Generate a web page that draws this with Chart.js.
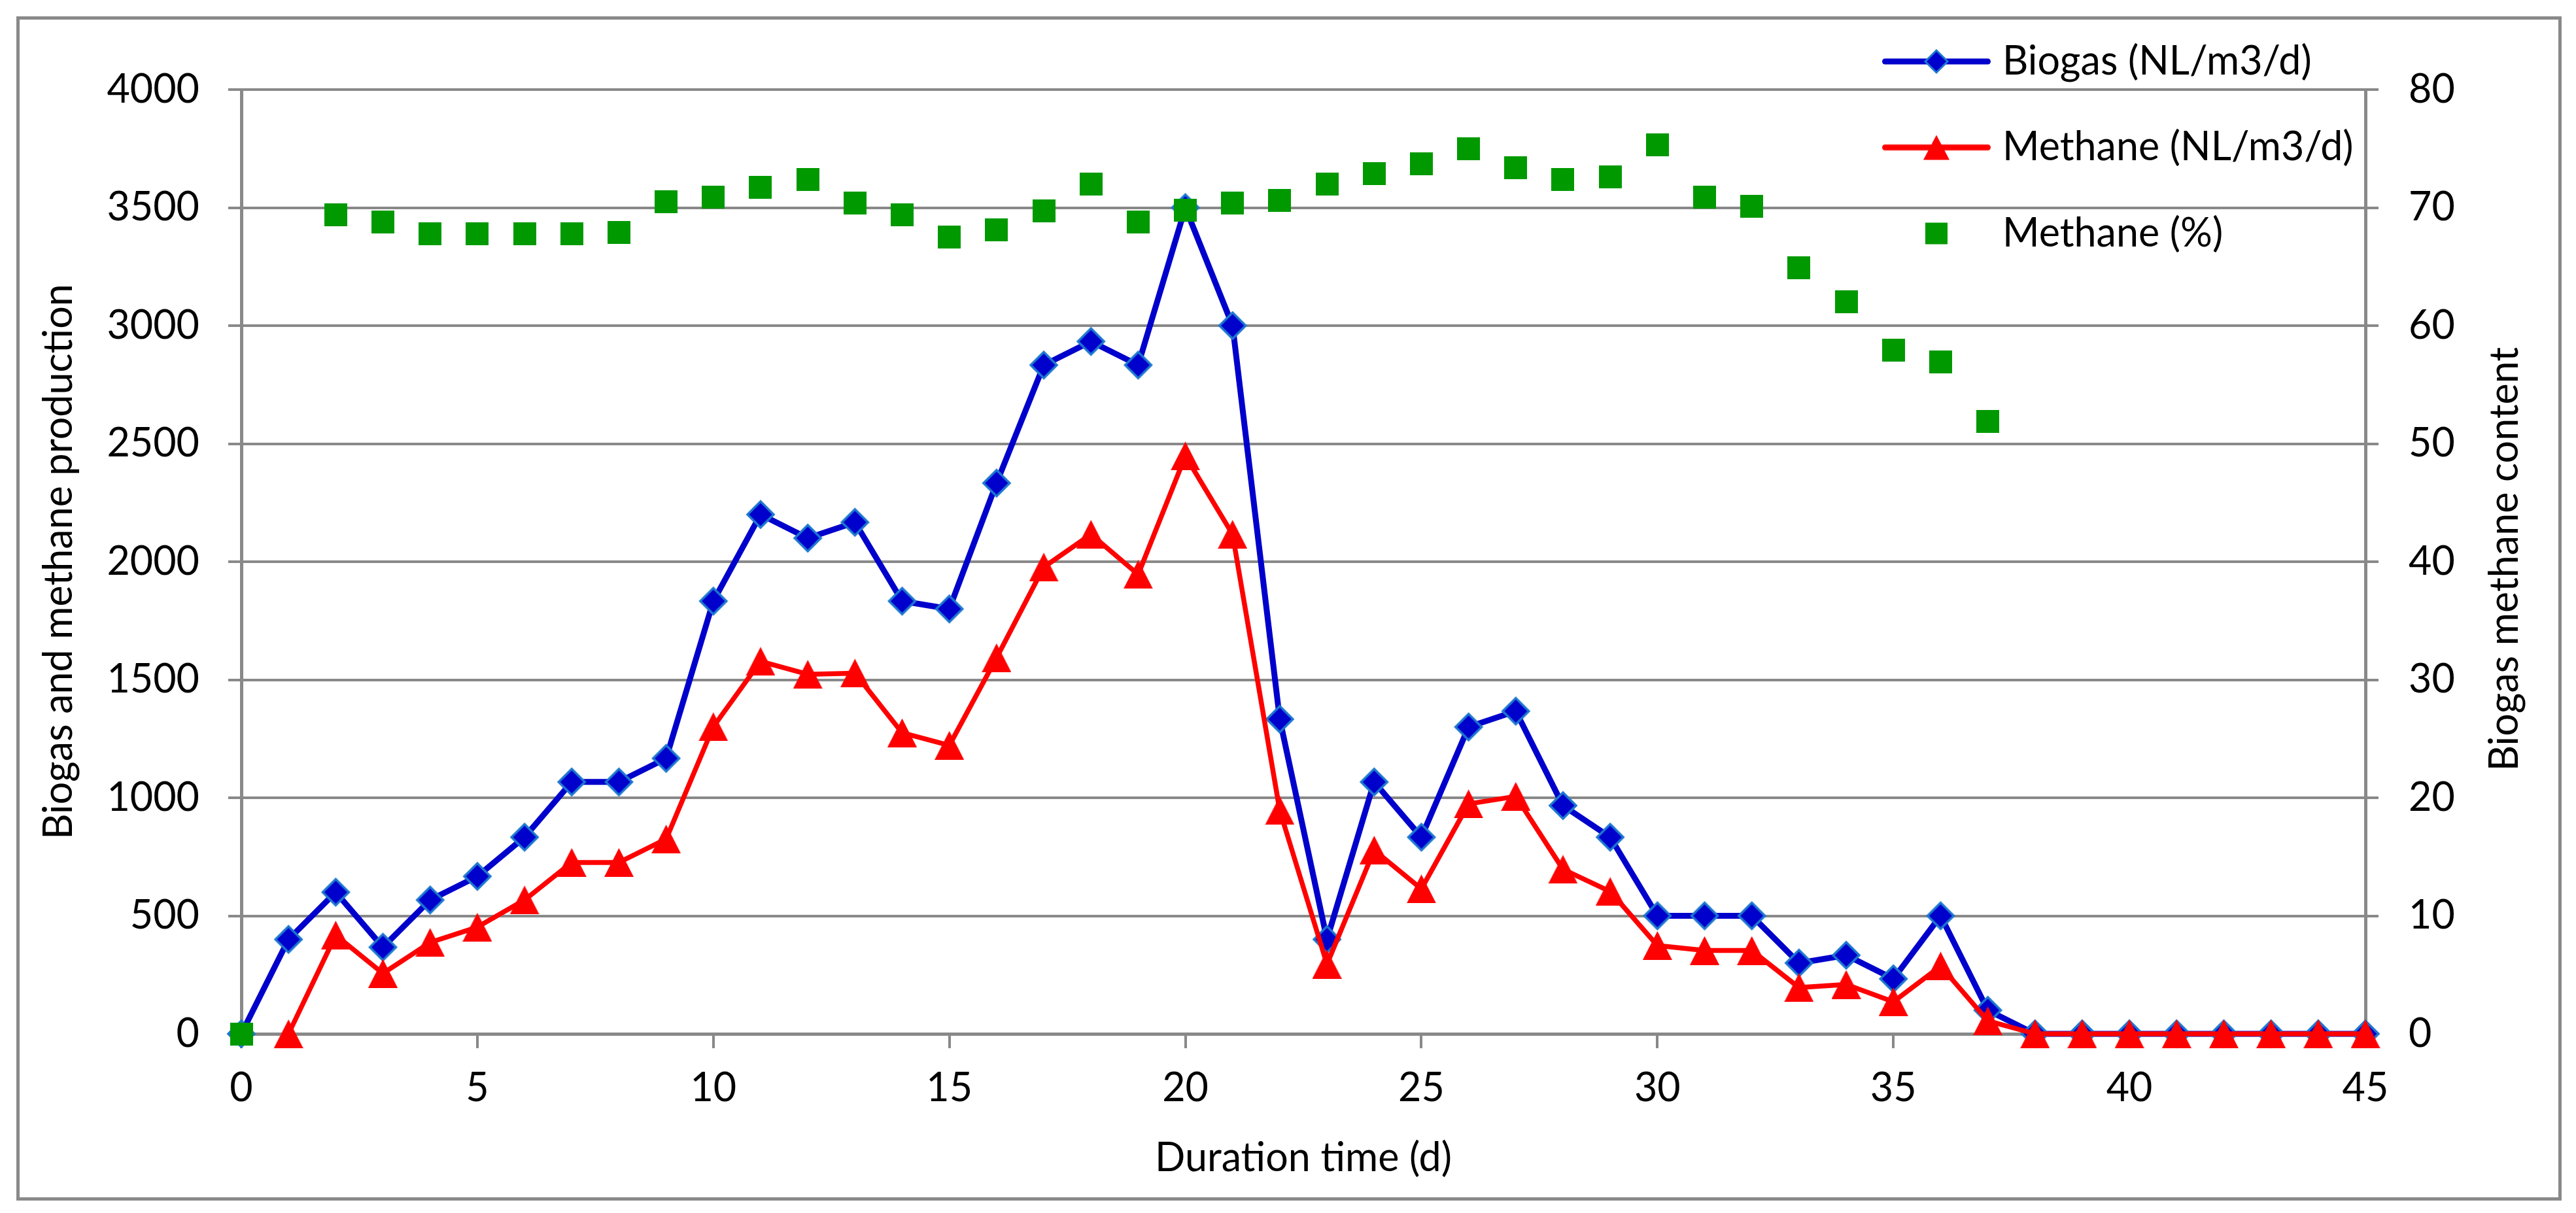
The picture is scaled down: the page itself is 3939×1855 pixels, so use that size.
<!DOCTYPE html>
<html>
<head>
<meta charset="utf-8">
<script src="https://cdn.jsdelivr.net/npm/chart.js@4/dist/chart.umd.min.js"></script>
<style>
html,body{margin:0;padding:0;background:#ffffff;}
#frame{position:absolute;left:25px;top:25px;width:3892px;height:1811px;border:5px solid #898989;box-sizing:border-box;}
#c{position:absolute;left:0;top:0;}
</style>
</head>
<body>
<div id="frame"></div>
<canvas id="c" width="3939" height="1855" style="width:3939px;height:1855px"></canvas>
<script>
// ---------------- data ----------------
const days = [0,1,2,3,4,5,6,7,8,9,10,11,12,13,14,15,16,17,18,19,20,21,22,23,24,25,26,27,28,29,30,31,32,33,34,35,36,37,38,39,40,41,42,43,44,45];
const biogas = [0,400,600,367,567,667,833,1067,1067,1167,1833,2200,2100,2167,1833,1800,2333,2833,2933,2833,3500,3000,1333,400,1067,833,1300,1367,967,833,500,500,500,300,333,233,500,100,0,0,0,0,0,0,0,0];
const methane = [null,0,418,256,387,452,567,726,726,825,1301,1578,1523,1528,1275,1222,1593,1977,2116,1946,2448,2116,946,295,778,614,974,1006,697,603,374,353,353,196,209,136,287,55,0,0,0,0,0,0,0,0];
const methanePct = [0,null,69.4,68.8,67.8,67.8,67.8,67.8,67.9,70.5,70.9,71.7,72.4,70.4,69.4,67.5,68.1,69.7,72.0,68.8,69.8,70.4,70.6,72.0,72.9,73.7,75.0,73.4,72.4,72.6,75.3,70.9,70.1,64.9,62.0,57.9,56.9,51.9,null,null,null,null,null,null,null,null];
const xTicks = [0,5,10,15,20,25,30,35,40,45];
const leftTicks = [0,500,1000,1500,2000,2500,3000,3500,4000];
const rightTicks = [0,10,20,30,40,50,60,70,80];
const seriesNames = ['Biogas (NL/m3/d)','Methane (NL/m3/d)','Methane (%)'];
const xTitle = 'Duration time (d)';
const leftTitle = 'Biogas and methane production';
const rightTitle = 'Biogas methane content';

// ---------------- style ----------------
const FONT = 'Lato';
const GRID = '#898989';
const BLUE = '#0000CC', BLUE_EDGE = '#1E78D0', RED = '#FF0000', GREEN = '#009900';

function fitFont(pairs){
  const g = document.createElement('canvas').getContext('2d');
  g.font = '100px ' + FONT;
  let s = 0;
  pairs.forEach(([t,w]) => { s += 100 * w / g.measureText(t).width; });
  return s / pairs.length;
}
const FS = Math.round(fitFont([[leftTitle,858],[rightTitle,656],[xTitle,463],[seriesNames[0],468],[seriesNames[1],539],[seriesNames[2],341]]));

function makeCanvas(w,h,draw){
  const c = document.createElement('canvas'); c.width = w; c.height = h;
  draw(c.getContext('2d')); return c;
}
function diamond(g,cx,cy,r,bw){
  g.beginPath(); g.moveTo(cx,cy-r); g.lineTo(cx+r,cy); g.lineTo(cx,cy+r); g.lineTo(cx-r,cy); g.closePath();
  g.fillStyle = BLUE; g.fill(); g.lineWidth = bw; g.strokeStyle = BLUE_EDGE; g.lineJoin = 'miter'; g.stroke();
}
function triangle(g,cx,cy,w,h){
  g.beginPath(); g.moveTo(cx,cy-h/2); g.lineTo(cx+w/2,cy+h/2); g.lineTo(cx-w/2,cy+h/2); g.closePath();
  g.fillStyle = RED; g.fill();
}
function legLine(g,color){
  g.beginPath(); g.moveTo(4.5,22); g.lineTo(161.5,22); g.lineWidth = 9; g.lineCap = 'round'; g.strokeStyle = color; g.stroke();
}
const diamondImg = makeCanvas(50,50,g => diamond(g,25,25,20,3.5));
const triangleImg = makeCanvas(45,44,g => triangle(g,22.5,22,45,44));
const squareImg = makeCanvas(35,35,g => { g.fillStyle = GREEN; g.fillRect(0,0,35,35); });
const legImgs = [
  makeCanvas(166,44,g => { legLine(g,BLUE); diamond(g,83,22,17,3); }),
  makeCanvas(166,44,g => { legLine(g,RED); triangle(g,83,22,40,38); }),
  makeCanvas(166,44,g => { g.fillStyle = GREEN; g.fillRect(83-17,22-16.5,34,33); })
];

// legend geometry
const LEG_PAD = 131.5 - FS;
const LEG_BW = 202 - FS;
const LEG_CX = 2961, LEG_Y0 = 94;

const legendPlace = {
  id: 'legendPlace',
  afterLayout(chart){
    const lg = chart.legend; if (!lg) return;
    lg.left = LEG_CX - LEG_BW/2 - LEG_PAD;
    lg.top = LEG_Y0 - LEG_PAD - FS/2;
    lg.width = 900; lg.right = lg.left + lg.width;
    lg.height = LEG_PAD + 3*(FS + LEG_PAD) + 40; lg.bottom = lg.top + lg.height;
  }
};
const rightTitlePlugin = {
  id: 'rightTitle',
  afterDraw(chart){
    const s = chart.scales.y1, ctx = chart.ctx;
    ctx.save();
    ctx.translate(s.right - 109, (s.top + s.bottom)/2 - 4);
    ctx.rotate(-Math.PI/2);
    ctx.font = FS + 'px ' + FONT;
    ctx.fillStyle = '#000'; ctx.textAlign = 'center'; ctx.textBaseline = 'middle';
    ctx.fillText(rightTitle, 0, 0);
    ctx.restore();
  }
};

const pts = arr => days.map((d,i) => ({x: d, y: arr[i]}));
const tickFont = {family: FONT, size: FS};
const plain = v => String(v);

new Chart(document.getElementById('c'), {
  type: 'line',
  data: {
    datasets: [
      { label: seriesNames[0], data: pts(biogas), yAxisID: 'y', order: 3,
        borderColor: BLUE, borderWidth: 9, borderJoinStyle: 'round', borderCapStyle: 'round', tension: 0,
        pointStyle: diamondImg, pointRadius: 20, clip: false },
      { label: seriesNames[1], data: pts(methane), yAxisID: 'y', order: 2,
        borderColor: RED, borderWidth: 7.5, borderJoinStyle: 'round', borderCapStyle: 'round', tension: 0,
        pointStyle: triangleImg, pointRadius: 20, clip: false },
      { label: seriesNames[2], data: pts(methanePct), yAxisID: 'y1', order: 1, showLine: false,
        pointStyle: squareImg, pointRadius: 18, clip: false }
    ]
  },
  options: {
    responsive: false,
    animation: false,
    events: [],
    layout: { padding: { top: 137, left: 0, right: 0, bottom: 0 } },
    scales: {
      x: {
        type: 'linear', min: 0, max: 45,
        afterBuildTicks: s => { s.ticks = xTicks.map(v => ({value: v})); },
        afterFit: s => { s.height = 274; },
        grid: { drawOnChartArea: false, drawTicks: true, tickLength: 22, lineWidth: 4, color: GRID },
        border: { display: true, color: GRID, width: 5 },
        ticks: { font: tickFont, color: '#000', padding: Math.round(62 - 0.6*FS), maxRotation: 0, callback: plain },
        title: { display: true, text: xTitle, color: '#000', font: {family: FONT, size: FS}, padding: {top: 0, bottom: Math.round(84 - 0.6*FS)} }
      },
      y: {
        position: 'left', min: 0, max: 4000,
        afterBuildTicks: s => { s.ticks = leftTicks.map(v => ({value: v})); },
        afterFit: s => { s.width = 369; },
        grid: { drawOnChartArea: true, drawTicks: true, tickLength: 20, lineWidth: 4, color: GRID },
        border: { display: true, color: GRID, width: 5 },
        ticks: { font: tickFont, color: '#000', padding: 44, callback: plain },
        title: { display: true, text: leftTitle, color: '#000', font: {family: FONT, size: FS}, padding: {top: Math.round(91 - 0.6*FS), bottom: 0} }
      },
      y1: {
        position: 'right', min: 0, max: 80,
        afterBuildTicks: s => { s.ticks = rightTicks.map(v => ({value: v})); },
        afterFit: s => { s.width = 322; },
        grid: { drawOnChartArea: false, drawTicks: true, tickLength: 20, lineWidth: 4, color: GRID },
        border: { display: true, color: GRID, width: 5 },
        ticks: { font: tickFont, color: '#000', padding: 46, callback: plain }
      }
    },
    plugins: {
      tooltip: { enabled: false },
      legend: {
        display: true, position: 'chartArea', fullSize: false, align: 'start',
        labels: {
          font: {family: FONT, size: FS}, color: '#000', usePointStyle: true,
          pointStyleWidth: LEG_BW, padding: LEG_PAD,
          generateLabels: () => seriesNames.map((t,i) => ({
            text: t, pointStyle: legImgs[i], fillStyle: 'rgba(0,0,0,0)', strokeStyle: 'rgba(0,0,0,0)',
            lineWidth: 0, hidden: false, datasetIndex: i, fontColor: '#000'
          }))
        }
      }
    }
  },
  plugins: [legendPlace, rightTitlePlugin]
});
</script>
</body>
</html>
